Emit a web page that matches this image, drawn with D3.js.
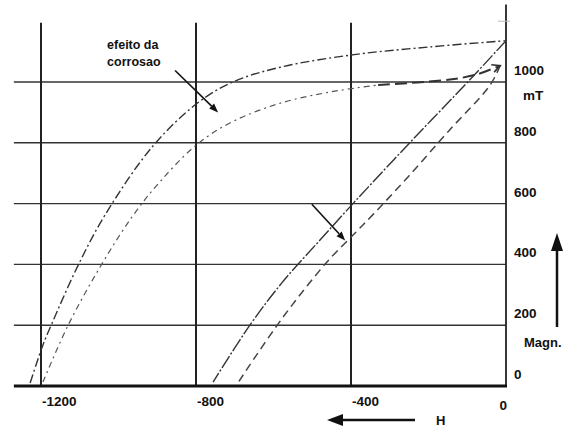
<!DOCTYPE html>
<html>
<head>
<meta charset="utf-8">
<script src="https://cdn.jsdelivr.net/npm/d3@7"></script>
<style>
  body { margin: 0; background: #fff; }
  text { font-family: "Liberation Sans", Arial, sans-serif; font-weight: bold; fill: #111; }
</style>
</head>
<body>
<div id="container"></div>
<script>
/* CONSTANTS AND GLOBALS */
const width = 564,
  height = 429

// DATA (H along x, M in mT)
const xTicks = [-1200, -800, -400, 0]
const yTicks = [0, 200, 400, 600, 800, 1000]

// original curve (dash-dot, upper left)
const curveA = [[-1228, 10], [-1195, 135], [-1172, 205], [-1105, 395], [-1035, 562], [-914, 785],
  [-797, 930], [-705, 1000], [-578, 1050], [-392, 1090], [-200, 1115], [0, 1136]]
// corroded curve (dash-dot, lower left)
const curveB = [[-1195, 13], [-1130, 200], [-1043, 401], [-963, 560], [-893, 672], [-797, 795],
  [-705, 870], [-578, 932], [-450, 968], [-330, 990]]
// corroded curve continuation (heavy dashed)
const curveB2 = [[-330, 990], [-145, 1008], [-75, 1025], [-15, 1054]]
// original curve, right branch
const curveC = [[0, 1136], [-95, 1005], [-250, 798], [-392, 604], [-480, 480], [-578, 340],
  [-661, 200], [-756, 13]]
// corroded curve, right branch (dashed)
const curveD = [[-15, 1054], [-41, 990], [-147, 840], [-250, 692], [-341, 567], [-392, 500],
  [-462, 408], [-578, 222], [-692, 10]]

// annotation arrows [from, to] in data units
const noteArrows = [[[-854, 1038], [-743, 900]], [[-501, 598], [-415, 479]]]
const noteLines = ["efeito da", "corrosao"]

/* SCALES */
const xScale = d3.scaleLinear().domain([-1200, 0]).range([41, 506])
const yScale = d3.scaleLinear().domain([0, 1000]).range([386, 82])

/* SVG */
const svg = d3.select("#container")
  .append("svg")
  .attr("width", width)
  .attr("height", height)

svg.append("rect").attr("width", width).attr("height", height).attr("fill", "#fff")

// horizontal grid
svg.append("g")
  .selectAll("line")
  .data(yTicks.filter(d => d > 0))
  .join("line")
  .attr("x1", xScale(-1270))
  .attr("x2", xScale(0))
  .attr("y1", d => yScale(d))
  .attr("y2", d => yScale(d))
  .attr("stroke", "#333")
  .attr("stroke-width", 1.4)

// vertical grid
svg.append("g")
  .selectAll("line")
  .data(xTicks.filter(d => d < 0))
  .join("line")
  .attr("x1", d => xScale(d))
  .attr("x2", d => xScale(d))
  .attr("y1", yScale(0))
  .attr("y2", yScale(1195))
  .attr("stroke", "#222")
  .attr("stroke-width", 2)

// right axis line
svg.append("line")
  .attr("x1", xScale(0)).attr("x2", xScale(0))
  .attr("y1", yScale(0)).attr("y2", yScale(1255))
  .attr("stroke", "#222").attr("stroke-width", 1.8)

// small tick at 1200
svg.append("line")
  .attr("x1", xScale(0) - 8).attr("x2", xScale(0) + 4)
  .attr("y1", yScale(1200)).attr("y2", yScale(1200))
  .attr("stroke", "#bbb").attr("stroke-width", 1)

// bottom axis
svg.append("line")
  .attr("x1", xScale(-1270)).attr("x2", xScale(0) + 1)
  .attr("y1", yScale(0)).attr("y2", yScale(0))
  .attr("stroke", "#111").attr("stroke-width", 3)

// tick labels
svg.append("g")
  .selectAll("text")
  .data(yTicks)
  .join("text")
  .attr("x", xScale(0) + 8)
  .attr("y", d => yScale(d) - 7)
  .attr("font-size", 13.5)
  .text(d => d)

svg.append("text")
  .attr("x", xScale(0) + 17)
  .attr("y", yScale(940))
  .attr("font-size", 13.5)
  .text("mT")

svg.append("g")
  .selectAll("text")
  .data(xTicks)
  .join("text")
  .attr("x", d => xScale(d) + 1)
  .attr("y", d => d === 0 ? yScale(0) + 24 : yScale(0) + 20)
  .attr("text-anchor", d => d === 0 ? "end" : "start")
  .attr("font-size", 13.5)
  .text(d => d)

// LINE GENERATOR
const lineGen = d3.line()
  .x(d => xScale(d[0]))
  .y(d => yScale(d[1]))
  .curve(d3.curveCatmullRom.alpha(0.5))

const curves = [
  { data: curveA, dash: "9,3,2,3", w: 1.4, c: "#333" },
  { data: curveB, dash: "6,4,2,4", w: 1.2, c: "#555" },
  { data: curveB2, dash: "12,5", w: 2, c: "#333" },
  { data: curveC, dash: "14,2,2,2", w: 1.4, c: "#333" },
  { data: curveD, dash: "8,5", w: 1.5, c: "#444" }
]

svg.append("g")
  .selectAll("path")
  .data(curves)
  .join("path")
  .attr("d", d => lineGen(d.data))
  .attr("fill", "none")
  .attr("stroke", d => d.c)
  .attr("stroke-width", d => d.w)
  .attr("stroke-dasharray", d => d.dash)

// arrow helper
function arrow(x1, y1, x2, y2, len, half, w) {
  const a = Math.atan2(y2 - y1, x2 - x1)
  const bx = x2 - len * Math.cos(a), by = y2 - len * Math.sin(a)
  svg.append("line")
    .attr("x1", x1).attr("y1", y1).attr("x2", bx).attr("y2", by)
    .attr("stroke", "#111").attr("stroke-width", w)
  svg.append("path")
    .attr("d", `M${x2},${y2}L${bx + half * Math.sin(a)},${by - half * Math.cos(a)}L${bx - half * Math.sin(a)},${by + half * Math.cos(a)}Z`)
    .attr("fill", "#111")
}

// open arrowhead at end of heavy dashed curve
const bEnd = curveB2[curveB2.length - 1], bPrev = curveB2[curveB2.length - 2]
{
  const x2 = xScale(bEnd[0]), y2 = yScale(bEnd[1])
  const a = Math.atan2(y2 - yScale(bPrev[1]), x2 - xScale(bPrev[0]))
  const bx = x2 - 8 * Math.cos(a), by = y2 - 8 * Math.sin(a)
  svg.append("path")
    .attr("d", `M${bx + 4 * Math.sin(a)},${by - 4 * Math.cos(a)}L${x2},${y2}L${bx - 4 * Math.sin(a)},${by + 4 * Math.cos(a)}`)
    .attr("fill", "none").attr("stroke", "#333").attr("stroke-width", 1.6)
}

// annotation arrows
noteArrows.forEach(([p, q]) => {
  arrow(xScale(p[0]), yScale(p[1]), xScale(q[0]), yScale(q[1]), 9, 3.5, 1.6)
})

svg.append("g")
  .selectAll("text")
  .data(noteLines)
  .join("text")
  .attr("x", xScale(-854) - 68)
  .attr("y", (d, i) => yScale(1038) - 21 + i * 17)
  .attr("font-size", 12.5)
  .text(d => d)

// H arrow
arrow(415, 420, 327, 420, 16, 6, 2.5)
svg.append("text").attr("x", 436).attr("y", 425).attr("font-size", 13).text("H")

// Magn arrow
arrow(557, 327, 557, 233, 18, 6, 2.5)
svg.append("text").attr("x", 524).attr("y", 347).attr("font-size", 13).text("Magn.")
</script>
</body>
</html>
